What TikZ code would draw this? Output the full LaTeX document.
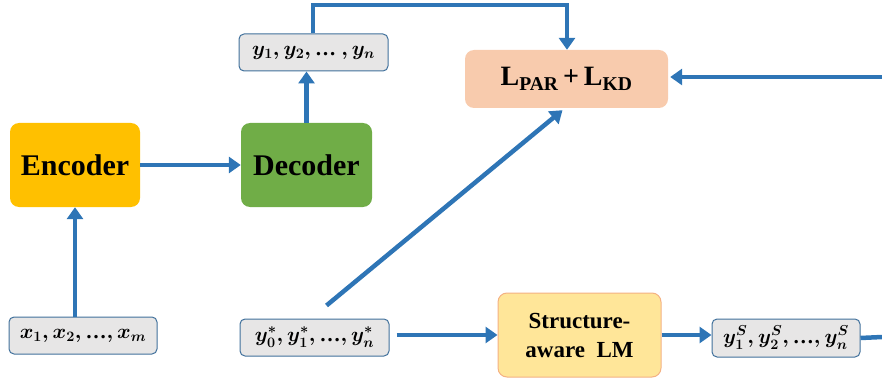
\documentclass[tikz,border=0pt]{standalone}
\usepackage{amsmath}
\usepackage{fontspec}
\setmainfont{Liberation Serif}
\usetikzlibrary{arrows.meta}
\definecolor{lineblue}{HTML}{2E75B6}
\definecolor{encfill}{HTML}{FFC000}
\definecolor{decfill}{HTML}{70AD47}
\definecolor{seqfill}{HTML}{E7E6E6}
\definecolor{seqdraw}{HTML}{41719C}
\definecolor{lossfill}{HTML}{F8CBAD}
\definecolor{lmfill}{HTML}{FFE699}
\definecolor{lmdraw}{HTML}{F4B183}
\newcommand{\dts}{\text{\bfseries …}}
\begin{document}
\begin{tikzpicture}[x=1pt,y=-1pt,
  conn/.style={draw=lineblue, line width=4.5pt, -{Triangle[length=12pt,width=16pt]}},
  plain/.style={draw=lineblue, line width=4.5pt},
  bigbox/.style={rounded corners=9pt, font=\rmfamily\bfseries\fontsize{30}{32}\selectfont, inner sep=0pt},
  seq/.style={rounded corners=5pt, fill=seqfill, draw=seqdraw, line width=1pt, inner sep=0pt, font=\fontsize{21}{24}\selectfont\boldmath}
]
\useasboundingbox (0,0) rectangle (882,382);
% nodes
\node[bigbox, fill=encfill, minimum width=130pt, minimum height=84pt] (enc) at (75,165) {Encoder};
\node[bigbox, fill=decfill, minimum width=131pt, minimum height=84pt] (dec) at (306.5,165) {Decoder};
\node[seq, minimum width=149pt, minimum height=37pt] (yseq) at (313.5,52.5) {$y_1, y_2, \dts\ , y_n$};
\node[rounded corners=9pt, fill=lossfill, minimum width=203pt, minimum height=58pt, inner sep=0pt,
      font=\rmfamily\bfseries\fontsize{28}{30}\selectfont] (loss) at (566.5,79) {L\textsubscript{PAR}\,+\,L\textsubscript{KD}};
\node[seq, minimum width=148pt, minimum height=37pt] (xseq) at (83,335.5) {$x_1, x_2, \dts, x_m$};
\node[seq, minimum width=149pt, minimum height=37pt] (ystar) at (314.5,337.5) {$y_0^*, y_1^*, \dts, y_n^*$};
\node[rounded corners=9pt, fill=lmfill, draw=lmdraw, line width=1pt, minimum width=163pt, minimum height=84pt, inner sep=0pt, align=center,
      font=\rmfamily\bfseries\fontsize{23}{29}\selectfont] (lm) at (579.5,335) {Structure-\\aware\ \ LM};
\node[seq, minimum width=148pt, minimum height=38pt] (ys) at (786,338) {$y_1^S, y_2^S, \dts, y_n^S$};
% free ends
\coordinate (topleft) at (313,5);
\coordinate (topright) at (567,5);
\coordinate (edgeR1) at (882,77);
\coordinate (edgeR2) at (882,337);
% connectors
\draw[conn] (enc.east) -- (dec.west);
\draw[conn] (xseq.north -| enc.south) -- (enc.south);
\draw[conn] (dec.north) -- (dec.north |- yseq.south);
\draw[conn] (yseq.north -| topleft) -- (topleft) -- (topright) -- (loss.north -| topright);
\draw[conn] ([xshift=12pt,yshift=13pt]ystar.north) -- ([xshift=-4pt,yshift=-2pt]loss.south);
\draw[conn] ([xshift=7pt]ystar.east |- lm.west) -- (lm.west);
\draw[conn] (lm.east) -- (ys.west |- lm.east);
\draw[plain] (ys.east) -- (edgeR2);
\draw[conn] (edgeR1) -- ([xshift=2pt]loss.east |- edgeR1);
\end{tikzpicture}
\end{document}
